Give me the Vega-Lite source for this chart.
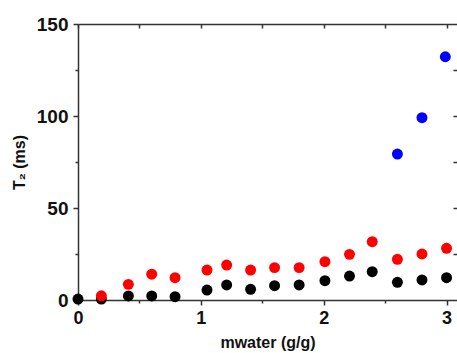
{
  "$schema": "https://vega.github.io/schema/vega-lite/v6.json",
  "width": 379,
  "height": 276,
  "autosize": "none",
  "padding": {"left": 78, "top": 24, "right": 0, "bottom": 53},
  "background": "white",
  "config": {
    "view": {"stroke": null},
    "axis": {
      "domainColor": "#333333",
      "domainWidth": 1.5,
      "tickColor": "#333333",
      "tickWidth": 1.5,
      "grid": false,
      "labelFlush": false,
      "labelFont": "Liberation Sans",
      "labelFontWeight": "bold",
      "labelColor": "#111111",
      "titleFont": "Liberation Sans",
      "titleFontWeight": "bold",
      "titleColor": "#111111"
    }
  },
  "data": {
    "values": [
      {"m": 0.0, "T2": 0.5, "series": "A"},
      {"m": 0.19, "T2": 0.5, "series": "A"},
      {"m": 0.41, "T2": 2.2, "series": "A"},
      {"m": 0.6, "T2": 2.2, "series": "A"},
      {"m": 0.79, "T2": 1.8, "series": "A"},
      {"m": 1.05, "T2": 5.4, "series": "A"},
      {"m": 1.21, "T2": 8.2, "series": "A"},
      {"m": 1.405, "T2": 5.8, "series": "A"},
      {"m": 1.6, "T2": 7.8, "series": "A"},
      {"m": 1.8, "T2": 8.2, "series": "A"},
      {"m": 2.01, "T2": 10.5, "series": "A"},
      {"m": 2.21, "T2": 13.0, "series": "A"},
      {"m": 2.395, "T2": 15.4, "series": "A"},
      {"m": 2.6, "T2": 9.6, "series": "A"},
      {"m": 2.8, "T2": 10.9, "series": "A"},
      {"m": 3.0, "T2": 12.1, "series": "A"},
      {"m": 0.19, "T2": 2.3, "series": "B"},
      {"m": 0.41, "T2": 8.5, "series": "B"},
      {"m": 0.6, "T2": 14.0, "series": "B"},
      {"m": 0.79, "T2": 12.1, "series": "B"},
      {"m": 1.05, "T2": 16.3, "series": "B"},
      {"m": 1.21, "T2": 19.0, "series": "B"},
      {"m": 1.405, "T2": 16.3, "series": "B"},
      {"m": 1.6, "T2": 17.6, "series": "B"},
      {"m": 1.8, "T2": 17.6, "series": "B"},
      {"m": 2.01, "T2": 20.8, "series": "B"},
      {"m": 2.21, "T2": 24.8, "series": "B"},
      {"m": 2.395, "T2": 31.7, "series": "B"},
      {"m": 2.6, "T2": 22.1, "series": "B"},
      {"m": 2.8, "T2": 25.0, "series": "B"},
      {"m": 3.0, "T2": 28.1, "series": "B"},
      {"m": 2.6, "T2": 79.3, "series": "C"},
      {"m": 2.8, "T2": 99.1, "series": "C"},
      {"m": 2.99, "T2": 132.2, "series": "C"}
    ]
  },
  "resolve": {"axis": {"x": "independent", "y": "independent"}},
  "layer": [
    {
      "mark": {"type": "point", "opacity": 0},
      "encoding": {
        "x": {
          "field": "m", "type": "quantitative",
          "scale": {"domain": [0, 3.085], "nice": false, "zero": false},
          "axis": {"orient": "top", "values": [0, 0.5, 1, 1.5, 2, 2.5, 3], "labels": false, "tickSize": -4, "title": null}
        },
        "y": {
          "field": "T2", "type": "quantitative",
          "scale": {"domain": [0, 150], "nice": false},
          "axis": {"orient": "right", "values": [25, 50, 75, 100, 125], "labels": false, "domain": false, "tickSize": -4, "title": null}
        }
      }
    },
    {
      "mark": {"type": "circle", "size": 120, "opacity": 1},
      "encoding": {
        "x": {
          "field": "m", "type": "quantitative",
          "scale": {"domain": [0, 3.085], "nice": false, "zero": false},
          "axis": {
            "orient": "bottom",
            "values": [0, 0.5, 1, 1.5, 2, 2.5, 3],
            "labelExpr": "datum.value % 1 == 0 ? format(datum.value, 'd') : ''",
            "tickSize": {"condition": {"test": "datum.value % 1 == 0", "value": 5}, "value": 3},
            "labelFontSize": 18,
            "labelPadding": 4,
            "title": "mwater (g/g)",
            "titleFontSize": 16,
            "titlePadding": 7
          }
        },
        "y": {
          "field": "T2", "type": "quantitative",
          "scale": {"domain": [0, 150], "nice": false},
          "axis": {
            "orient": "left",
            "values": [0, 25, 50, 75, 100, 125, 150],
            "labelExpr": "datum.value % 50 == 0 ? datum.label : ''",
            "tickSize": {"condition": {"test": "datum.value % 50 == 0", "value": 5}, "value": 3},
            "labelFontSize": 19,
            "labelPadding": 5,
            "title": "T₂ (ms)",
            "titleFontSize": 16,
            "titlePadding": 9
          }
        },
        "color": {
          "field": "series", "type": "nominal",
          "scale": {"domain": ["A", "B", "C"], "range": ["#000000", "#ff0000", "#0000ff"]},
          "legend": null
        }
      }
    }
  ]
}
